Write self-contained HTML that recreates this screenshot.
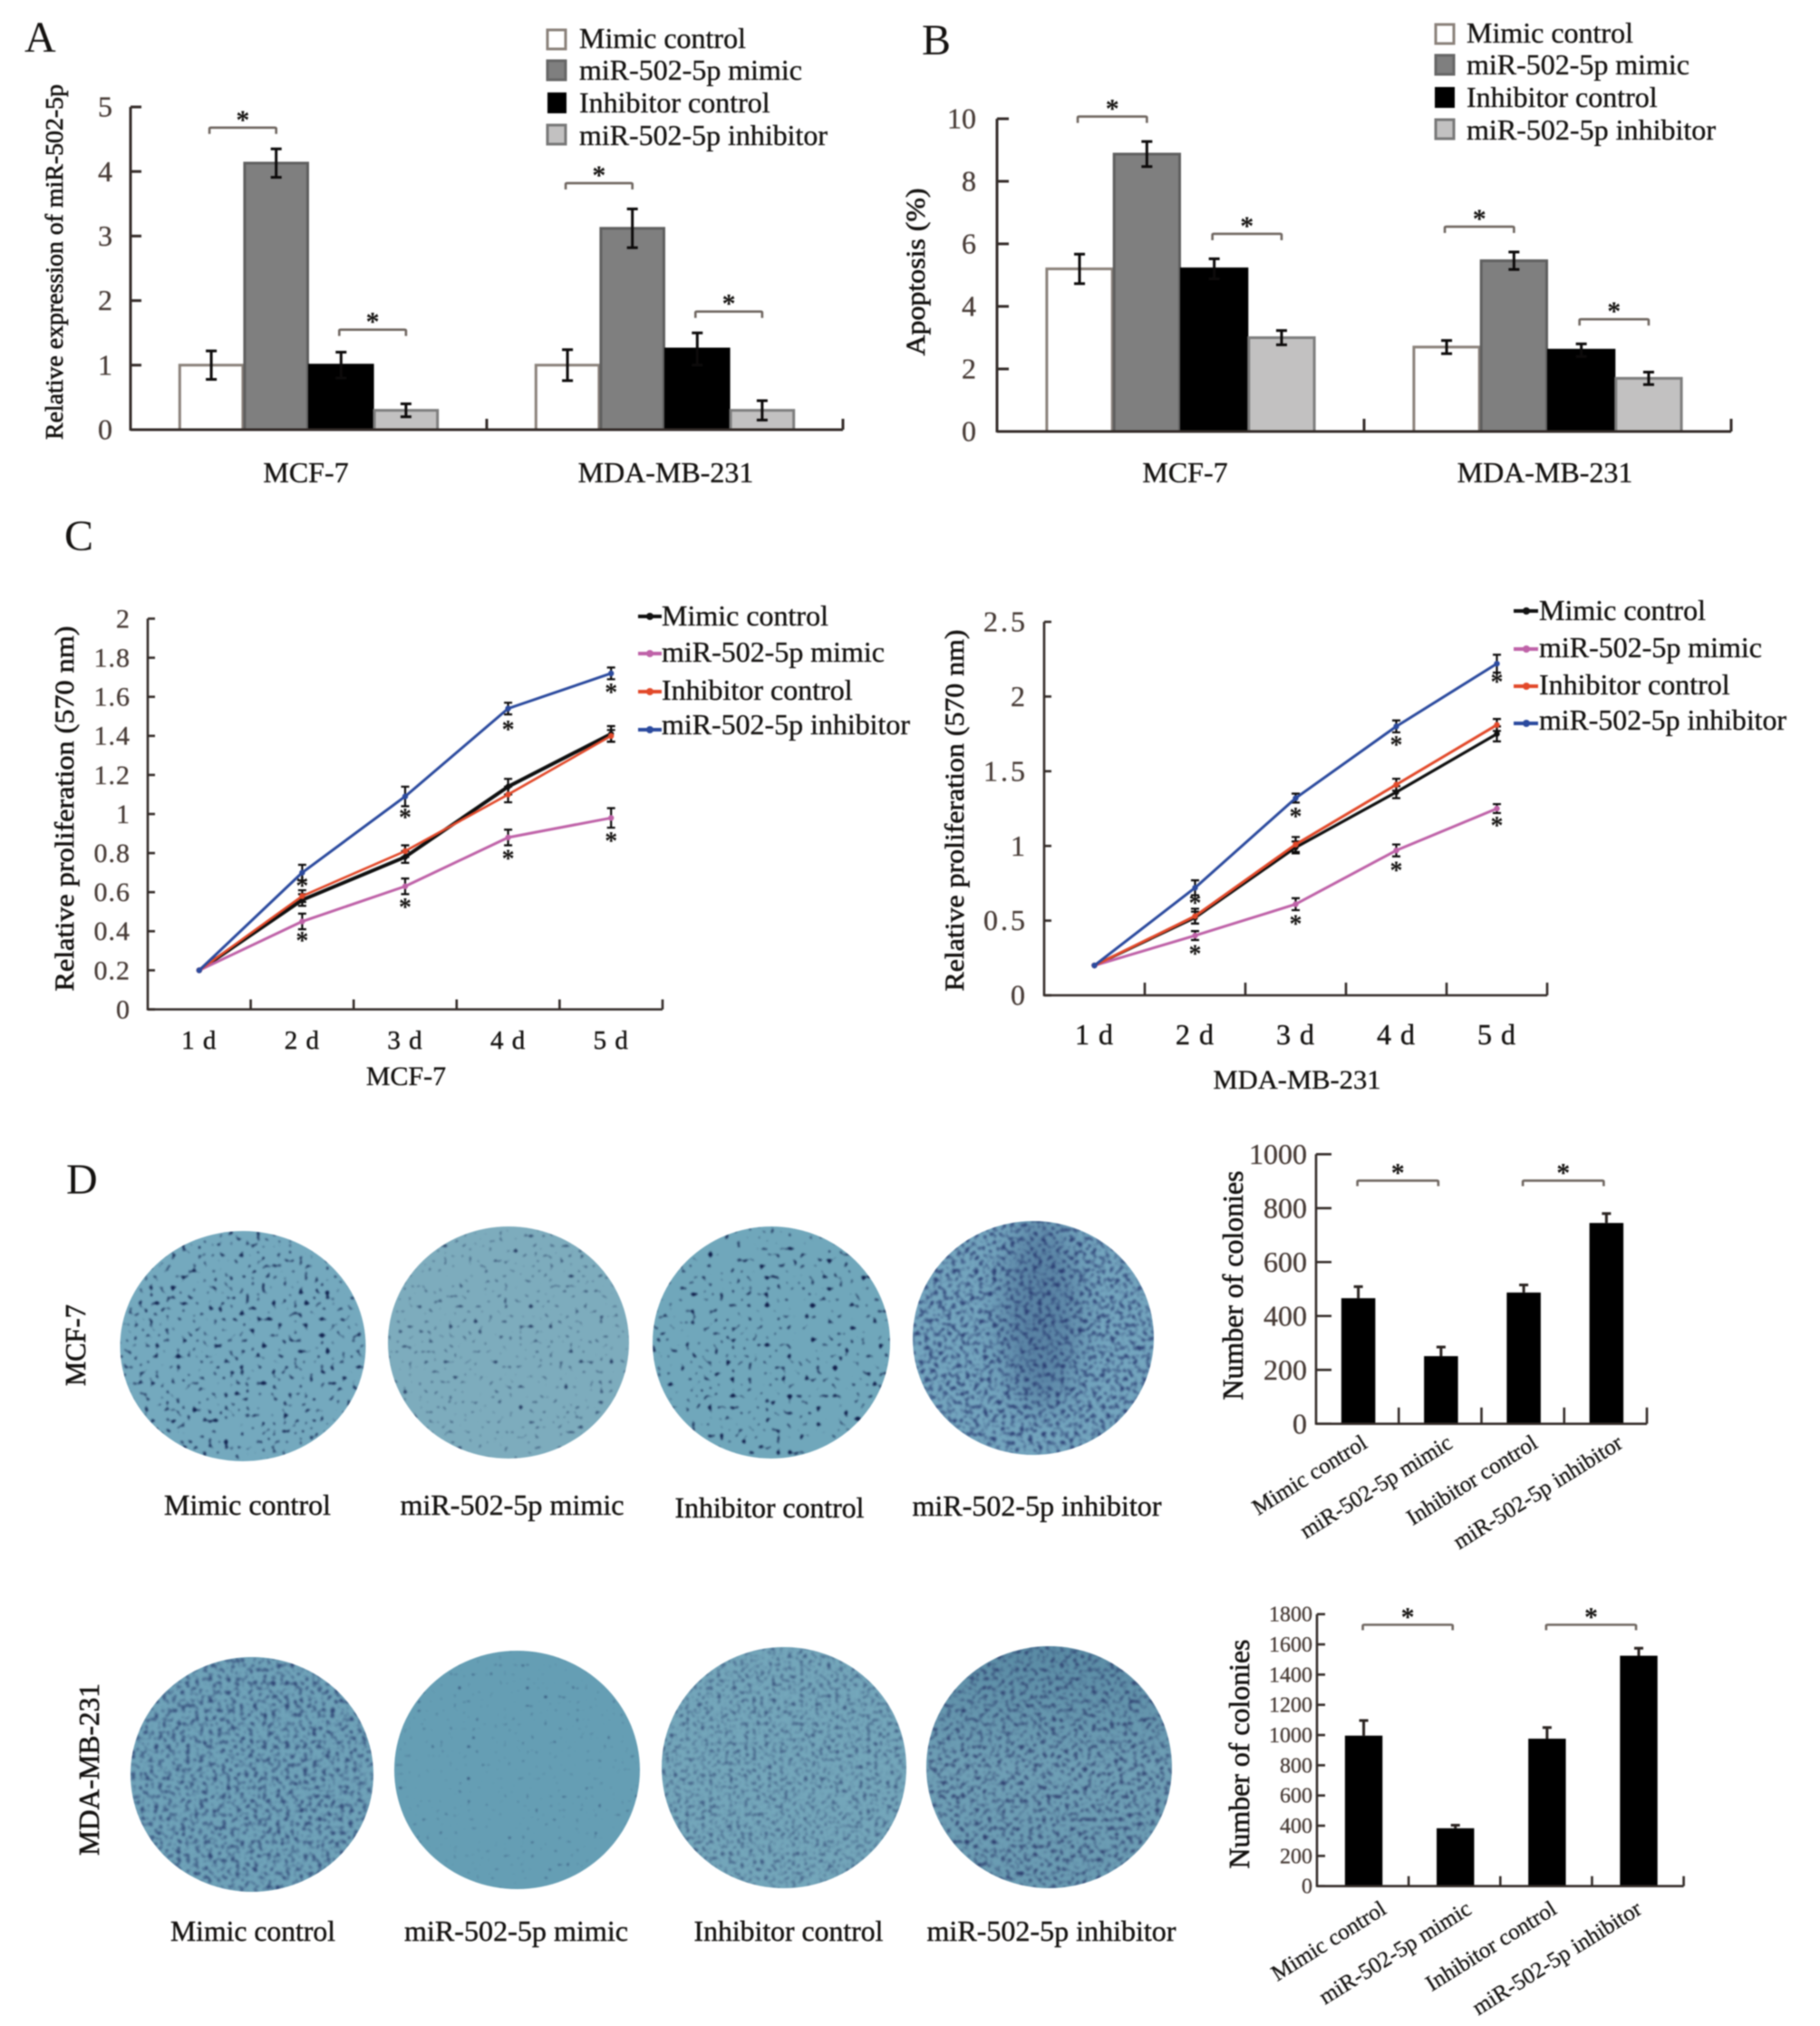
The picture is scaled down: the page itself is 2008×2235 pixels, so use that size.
<!DOCTYPE html>
<html lang="en">
<head>
<meta charset="utf-8">
<title>miR-502-5p multi-panel figure</title>
<style>
html,body{margin:0;padding:0;background:#fff;}
#figure{display:block;width:2008px;height:2235px;filter:blur(.7px);font-family:"Liberation Serif",serif;fill:#141210;}
.panel-letter{font-size:48px;}
.legend-text{font-size:32px;stroke:#141210;stroke-width:.35px;}
.axis-title{stroke:#141210;stroke-width:.6px;}
.cat{font-size:32px;stroke:#141210;stroke-width:.35px;}
.plate-label{font-size:32px;stroke:#141210;stroke-width:.4px;}
.tick{fill:#473b36;stroke:#473b36;stroke-width:.3px;}
</style>
</head>
<body>
<svg id="figure" xmlns="http://www.w3.org/2000/svg" width="2008" height="2235" viewBox="0 0 2008 2235">
<defs>
<filter id="sp1" x="0" y="0" width="1" height="1" color-interpolation-filters="sRGB"><feTurbulence type="fractalNoise" baseFrequency="0.17" numOctaves="1" seed="3"/><feColorMatrix values="0 0 0 0 .06 0 0 0 0 .12 0 0 0 0 .3 7 0 0 0 -4.3"/><feGaussianBlur stdDeviation=".9"/><feComposite operator="in" in2="SourceGraphic"/></filter>
<filter id="sp2" x="0" y="0" width="1" height="1" color-interpolation-filters="sRGB"><feTurbulence type="fractalNoise" baseFrequency="0.18" numOctaves="1" seed="11"/><feColorMatrix values="0 0 0 0 .12 0 0 0 0 .2 0 0 0 0 .36 6 0 0 0 -3.9"/><feGaussianBlur stdDeviation=".9"/><feComposite operator="in" in2="SourceGraphic"/></filter>
<filter id="sp3" x="0" y="0" width="1" height="1" color-interpolation-filters="sRGB"><feTurbulence type="fractalNoise" baseFrequency="0.16" numOctaves="1" seed="23"/><feColorMatrix values="0 0 0 0 .05 0 0 0 0 .1 0 0 0 0 .28 8 0 0 0 -5.1"/><feGaussianBlur stdDeviation=".9"/><feComposite operator="in" in2="SourceGraphic"/></filter>
<filter id="sp4" x="0" y="0" width="1" height="1" color-interpolation-filters="sRGB"><feTurbulence type="fractalNoise" baseFrequency="0.2" numOctaves="2" seed="37"/><feColorMatrix values="0 0 0 0 .14 0 0 0 0 .2 0 0 0 0 .42 3.6 0 0 0 -1.75"/><feGaussianBlur stdDeviation="1"/><feComposite operator="in" in2="SourceGraphic"/></filter>
<filter id="sp5" x="0" y="0" width="1" height="1" color-interpolation-filters="sRGB"><feTurbulence type="fractalNoise" baseFrequency="0.2" numOctaves="2" seed="41"/><feColorMatrix values="0 0 0 0 .15 0 0 0 0 .22 0 0 0 0 .42 3.4 0 0 0 -1.7"/><feGaussianBlur stdDeviation="1"/><feComposite operator="in" in2="SourceGraphic"/></filter>
<filter id="sp6" x="0" y="0" width="1" height="1" color-interpolation-filters="sRGB"><feTurbulence type="fractalNoise" baseFrequency="0.2" numOctaves="1" seed="53"/><feColorMatrix values="0 0 0 0 .14 0 0 0 0 .22 0 0 0 0 .4 5 0 0 0 -3.45"/><feGaussianBlur stdDeviation=".9"/><feComposite operator="in" in2="SourceGraphic"/></filter>
<filter id="sp7" x="0" y="0" width="1" height="1" color-interpolation-filters="sRGB"><feTurbulence type="fractalNoise" baseFrequency="0.23" numOctaves="2" seed="61"/><feColorMatrix values="0 0 0 0 .18 0 0 0 0 .26 0 0 0 0 .44 3.2 0 0 0 -1.65"/><feGaussianBlur stdDeviation="1"/><feComposite operator="in" in2="SourceGraphic"/></filter>
<filter id="sp8" x="0" y="0" width="1" height="1" color-interpolation-filters="sRGB"><feTurbulence type="fractalNoise" baseFrequency="0.2" numOctaves="2" seed="71"/><feColorMatrix values="0 0 0 0 .15 0 0 0 0 .2 0 0 0 0 .4 3.4 0 0 0 -1.7"/><feGaussianBlur stdDeviation="1"/><feComposite operator="in" in2="SourceGraphic"/></filter>
<filter id="soft" x="-30%" y="-30%" width="160%" height="160%"><feGaussianBlur stdDeviation="16"/></filter>
<linearGradient id="plate-top-dark" x1="0" y1="0" x2="0" y2="1"><stop offset="0" stop-color="#5a8ca5"/><stop offset=".5" stop-color="#6fa0b6"/><stop offset="1" stop-color="#6a9cb3"/></linearGradient>
<clipPath id="clip-mcf-inh"><ellipse cx="1140" cy="1476" rx="133" ry="129"/></clipPath>
</defs>

<!-- Panel letters -->
<text class="panel-letter" x="27" y="57">A</text>
<text class="panel-letter" x="1017" y="60">B</text>
<text class="panel-letter" x="71" y="607">C</text>
<text class="panel-letter" x="73" y="1317">D</text>

<!-- Panel A static parts -->
<g id="panel-a">
  <text class="axis-title" transform="translate(69,289) rotate(-90)" text-anchor="middle" font-size="27" textLength="392" lengthAdjust="spacingAndGlyphs">Relative expression of miR-502-5p</text>
  <g>
    <rect x="604" y="33" width="20" height="21" fill="#fff" stroke="#8a817a" stroke-width="3"/>
    <text class="legend-text" x="639" y="53">Mimic control</text>
    <rect x="604" y="67" width="20" height="21" fill="#7f7f7f" stroke="#666" stroke-width="3"/>
    <text class="legend-text" x="639" y="88" textLength="246" lengthAdjust="spacingAndGlyphs">miR-502-5p mimic</text>
    <rect x="604" y="102" width="21" height="23" fill="#000"/>
    <text class="legend-text" x="639" y="124">Inhibitor control</text>
    <rect x="604" y="138" width="20" height="21" fill="#c2c1c1" stroke="#777" stroke-width="3"/>
    <text class="legend-text" x="639" y="160" textLength="274" lengthAdjust="spacingAndGlyphs">miR-502-5p inhibitor</text>
  </g>
</g>

<!-- Panel B static parts -->
<g id="panel-b">
  <text class="axis-title" transform="translate(1020,300) rotate(-90)" text-anchor="middle" font-size="30" textLength="185" lengthAdjust="spacingAndGlyphs">Apoptosis (%)</text>
  <g>
    <rect x="1584" y="27" width="20" height="21" fill="#fff" stroke="#8a817a" stroke-width="3"/>
    <text class="legend-text" x="1618" y="47">Mimic control</text>
    <rect x="1584" y="61" width="20" height="21" fill="#7f7f7f" stroke="#666" stroke-width="3"/>
    <text class="legend-text" x="1618" y="82" textLength="246" lengthAdjust="spacingAndGlyphs">miR-502-5p mimic</text>
    <rect x="1583" y="96" width="22" height="23" fill="#000"/>
    <text class="legend-text" x="1618" y="118">Inhibitor control</text>
    <rect x="1584" y="132" width="20" height="21" fill="#c2c1c1" stroke="#777" stroke-width="3"/>
    <text class="legend-text" x="1618" y="154" textLength="275" lengthAdjust="spacingAndGlyphs">miR-502-5p inhibitor</text>
  </g>
</g>

<!-- Panel C left static parts -->
<g id="panel-c1">
  <text class="axis-title" transform="translate(81,892) rotate(-90)" text-anchor="middle" font-size="30" textLength="403" lengthAdjust="spacingAndGlyphs">Relative proliferation (570 nm)</text>
  <text class="cat" x="448" y="1197" text-anchor="middle" font-size="30" style="font-size:30px">MCF-7</text>
  <g>
    <line x1="704" y1="680" x2="730" y2="680" stroke="#111" stroke-width="4"/>
    <circle cx="717" cy="680" r="4" fill="#111"/>
    <text class="legend-text" x="730" y="690">Mimic control</text>
    <line x1="704" y1="721" x2="730" y2="721" stroke="#bf62a8" stroke-width="4"/>
    <circle cx="717" cy="721" r="4" fill="#bf62a8"/>
    <text class="legend-text" x="730" y="730" textLength="246" lengthAdjust="spacingAndGlyphs">miR-502-5p mimic</text>
    <line x1="704" y1="763" x2="730" y2="763" stroke="#e2492a" stroke-width="4"/>
    <circle cx="717" cy="763" r="4" fill="#e2492a"/>
    <text class="legend-text" x="730" y="772">Inhibitor control</text>
    <line x1="704" y1="805" x2="730" y2="805" stroke="#2b4a9e" stroke-width="4"/>
    <circle cx="717" cy="805" r="4" fill="#2b4a9e"/>
    <text class="legend-text" x="730" y="810" textLength="274" lengthAdjust="spacingAndGlyphs">miR-502-5p inhibitor</text>
  </g>
</g>

<!-- Panel C right static parts -->
<g id="panel-c2">
  <text class="axis-title" transform="translate(1063,894) rotate(-90)" text-anchor="middle" font-size="30" textLength="399" lengthAdjust="spacingAndGlyphs">Relative proliferation (570 nm)</text>
  <text class="cat" x="1431" y="1201" text-anchor="middle" style="font-size:30px" textLength="185" lengthAdjust="spacingAndGlyphs">MDA-MB-231</text>
  <g>
    <line x1="1670" y1="674" x2="1697" y2="674" stroke="#111" stroke-width="4"/>
    <circle cx="1684" cy="674" r="4" fill="#111"/>
    <text class="legend-text" x="1698" y="684">Mimic control</text>
    <line x1="1670" y1="716" x2="1697" y2="716" stroke="#bf62a8" stroke-width="4"/>
    <circle cx="1684" cy="716" r="4" fill="#bf62a8"/>
    <text class="legend-text" x="1698" y="725" textLength="246" lengthAdjust="spacingAndGlyphs">miR-502-5p mimic</text>
    <line x1="1670" y1="757" x2="1697" y2="757" stroke="#e2492a" stroke-width="4"/>
    <circle cx="1684" cy="757" r="4" fill="#e2492a"/>
    <text class="legend-text" x="1698" y="766">Inhibitor control</text>
    <line x1="1670" y1="798" x2="1697" y2="798" stroke="#2b4a9e" stroke-width="4"/>
    <circle cx="1684" cy="798" r="4" fill="#2b4a9e"/>
    <text class="legend-text" x="1698" y="805" textLength="273" lengthAdjust="spacingAndGlyphs">miR-502-5p inhibitor</text>
  </g>
</g>

<!-- Colony plates -->
<g id="plates-mcf7">
  <text class="axis-title" transform="translate(94,1484) rotate(-90)" text-anchor="middle" font-size="32" textLength="90" lengthAdjust="spacingAndGlyphs">MCF-7</text>
  <ellipse cx="268" cy="1485" rx="135.5" ry="127" fill="#74a9be"/>
  <ellipse cx="268" cy="1485" rx="135.5" ry="127" fill="#fff" filter="url(#sp1)"/>
  <ellipse cx="561" cy="1481" rx="133" ry="128" fill="#7dacbd"/>
  <ellipse cx="561" cy="1481" rx="133" ry="128" fill="#fff" filter="url(#sp2)"/>
  <ellipse cx="851" cy="1481" rx="131" ry="128" fill="#70a7bb"/>
  <ellipse cx="851" cy="1481" rx="131" ry="128" fill="#fff" filter="url(#sp3)"/>
  <ellipse cx="1140" cy="1476" rx="133" ry="129" fill="#74a6bf"/>
  <g clip-path="url(#clip-mcf-inh)">
    <ellipse cx="1148" cy="1450" rx="42" ry="105" fill="#35527f" opacity=".4" filter="url(#soft)"/>
  </g>
  <ellipse cx="1140" cy="1476" rx="133" ry="129" fill="#fff" filter="url(#sp4)"/>
  <text class="plate-label" x="273" y="1671" text-anchor="middle" textLength="184" lengthAdjust="spacingAndGlyphs">Mimic control</text>
  <text class="plate-label" x="565" y="1671" text-anchor="middle" textLength="247" lengthAdjust="spacingAndGlyphs">miR-502-5p mimic</text>
  <text class="plate-label" x="849" y="1674" text-anchor="middle" textLength="209" lengthAdjust="spacingAndGlyphs">Inhibitor control</text>
  <text class="plate-label" x="1144" y="1672" text-anchor="middle" textLength="275" lengthAdjust="spacingAndGlyphs">miR-502-5p inhibitor</text>
</g>
<g id="plates-mda">
  <text class="axis-title" transform="translate(109,1952) rotate(-90)" text-anchor="middle" font-size="32" textLength="190" lengthAdjust="spacingAndGlyphs">MDA-MB-231</text>
  <ellipse cx="278" cy="1957.5" rx="134" ry="129.5" fill="#6fa3b9"/>
  <ellipse cx="278" cy="1957.5" rx="134" ry="129.5" fill="#fff" filter="url(#sp5)"/>
  <ellipse cx="570.5" cy="1952.5" rx="135.5" ry="131.5" fill="#659eb4"/>
  <ellipse cx="570.5" cy="1952.5" rx="135.5" ry="131.5" fill="#fff" filter="url(#sp6)"/>
  <ellipse cx="865" cy="1950" rx="135" ry="133" fill="#74a7bb"/>
  <ellipse cx="865" cy="1950" rx="135" ry="133" fill="#fff" filter="url(#sp7)"/>
  <ellipse cx="1157.5" cy="1949.5" rx="135.5" ry="133.5" fill="url(#plate-top-dark)"/>
  <ellipse cx="1157.5" cy="1949.5" rx="135.5" ry="133.5" fill="#fff" filter="url(#sp8)"/>
  <text class="plate-label" x="279" y="2141" text-anchor="middle" textLength="182" lengthAdjust="spacingAndGlyphs">Mimic control</text>
  <text class="plate-label" x="569.5" y="2141" text-anchor="middle" textLength="247" lengthAdjust="spacingAndGlyphs">miR-502-5p mimic</text>
  <text class="plate-label" x="870" y="2141" text-anchor="middle" textLength="209" lengthAdjust="spacingAndGlyphs">Inhibitor control</text>
  <text class="plate-label" x="1160" y="2141" text-anchor="middle" textLength="275" lengthAdjust="spacingAndGlyphs">miR-502-5p inhibitor</text>
</g>

<!-- Panel D bar charts static parts -->
<g id="panel-d1">
  <text class="axis-title" transform="translate(1371,1418) rotate(-90)" text-anchor="middle" font-size="32" textLength="253" lengthAdjust="spacingAndGlyphs">Number of colonies</text>
</g>
<g id="panel-d2">
  <text class="axis-title" transform="translate(1378,1935) rotate(-90)" text-anchor="middle" font-size="32" textLength="253" lengthAdjust="spacingAndGlyphs">Number of colonies</text>
</g>
</svg>

<script>
/* ---------- Panel A data ---------- */
const panelACategories = ['MCF-7', 'MDA-MB-231'];
const panelATicks = [0, 1, 2, 3, 4, 5];
const panelAValues = [[1, 4.13, 1, 0.3], [1, 3.12, 1.25, 0.3]];
const panelAErrors = [[0.22, 0.22, 0.2, 0.1], [0.24, 0.3, 0.25, 0.15]];
const panelASignificance = [[0, 0, 1, 4.68], [0, 2, 3, 1.55], [1, 0, 1, 3.82], [1, 2, 3, 1.83]];

/* ---------- Panel B data ---------- */
const panelBCategories = ['MCF-7', 'MDA-MB-231'];
const panelBTicks = [0, 2, 4, 6, 8, 10];
const panelBValues = [[5.2, 8.87, 5.2, 3.0], [2.7, 5.46, 2.6, 1.7]];
const panelBErrors = [[0.47, 0.4, 0.32, 0.23], [0.21, 0.28, 0.2, 0.2]];
const panelBSignificance = [[0, 0, 1, 10.07], [0, 2, 3, 6.32], [1, 0, 1, 6.55], [1, 2, 3, 3.59]];

/* ---------- Panel C data ---------- */
const days = ['1 d', '2 d', '3 d', '4 d', '5 d'];
const panelC1Ticks = ['0', '0.2', '0.4', '0.6', '0.8', '1', '1.2', '1.4', '1.6', '1.8', '2'];
const c1MimicControl = [0.2, 0.56, 0.78, 1.14, 1.41];
const c1Mimic = [0.2, 0.45, 0.63, 0.88, 0.98];
const c1InhibitorControl = [0.2, 0.58, 0.81, 1.1, 1.4];
const c1Inhibitor = [0.2, 0.7, 1.09, 1.54, 1.72];
const c1ErrMimicControl = [0, 0.03, 0.03, 0.04, 0.04];
const c1ErrMimic = [0, 0.04, 0.04, 0.04, 0.05];
const c1ErrInhibitorControl = [0, 0.03, 0.03, 0.04, 0.03];
const c1ErrInhibitor = [0, 0.04, 0.05, 0.03, 0.03];
const c1StarsMimic = [null, 0.37, 0.54, 0.79, 0.88];
const c1StarsInhibitor = [null, 0.65, 1.0, 1.45, 1.64];

const panelC2Ticks = ['0', '0.5', '1', '1.5', '2', '2.5'];
const c2MimicControl = [0.2, 0.52, 0.99, 1.36, 1.75];
const c2Mimic = [0.2, 0.4, 0.61, 0.97, 1.25];
const c2InhibitorControl = [0.2, 0.53, 1.01, 1.41, 1.81];
const c2Inhibitor = [0.2, 0.72, 1.32, 1.8, 2.22];
const c2ErrMimicControl = [0, 0.04, 0.04, 0.04, 0.05];
const c2ErrMimic = [0, 0.03, 0.04, 0.04, 0.03];
const c2ErrInhibitorControl = [0, 0.05, 0.05, 0.04, 0.04];
const c2ErrInhibitor = [0, 0.05, 0.03, 0.04, 0.06];
const c2StarsMimic = [null, 0.3, 0.5, 0.86, 1.16];
const c2StarsInhibitor = [null, 0.64, 1.22, 1.7, 2.12];

/* ---------- Panel D data ---------- */
const colonyCategories = ['Mimic control', 'miR-502-5p mimic', 'Inhibitor control', 'miR-502-5p inhibitor'];
const d1Ticks = [0, 200, 400, 600, 800, 1000];
const d1Values = [466, 251, 487, 745];
const d1Errors = [43, 34, 28, 35];
const d1Significance = [[0, 1, 902], [2, 3, 902]];
const d2Ticks = [0, 200, 400, 600, 800, 1000, 1200, 1400, 1600, 1800];
const d2Values = [996, 383, 976, 1525];
const d2Errors = [100, 20, 74, 50];
const d2Significance = [[0, 1, 1730], [2, 3, 1730]];

const NS = 'http://www.w3.org/2000/svg';
const AXIS = '#332b28';
const BRACKET = '#6f6660';
const BAR_FILL = ['#ffffff', '#7f7f7f', '#000000', '#c2c1c1'];
const BAR_EDGE = ['#8a817a', '#5f5f5f', '#000000', '#7d7d7d'];

function mk(parent, tag, attrs, text) {
  const n = document.createElementNS(NS, tag);
  for (const k in attrs) n.setAttribute(k, attrs[k]);
  if (text !== undefined) n.textContent = text;
  parent.appendChild(n);
  return n;
}

function linearY(f, v) {
  return f.y0 - (v / f.max) * (f.y0 - f.yTop);
}

function drawYAxis(root, f, ticks) {
  const axis = mk(root, 'line', {x1: f.x0, y1: f.yTop, x2: f.x0, y2: f.y0 + 1, stroke: AXIS, 'stroke-width': f.sw || 3});
  
  
  ticks.forEach(function (t) {
    const y = linearY(f, Number(t));
    const tk = mk(root, 'line', {x1: f.x0, y1: y, x2: f.x0 + f.yTickLen, y2: y, stroke: AXIS, 'stroke-width': f.sw || 3});
    
    
    const lb = mk(root, 'text', {x: f.x0 - f.labelGap, y: y + f.labelSize * 0.33, 'text-anchor': 'end', 'font-size': f.labelSize, class: 'tick', 'letter-spacing': f.labelSpacing || 0}, String(t));
    
    
  });
}

function drawXAxis(root, f, n) {
  const axis = mk(root, 'line', {x1: f.x0, y1: f.y0, x2: f.x1, y2: f.y0, stroke: AXIS, 'stroke-width': f.sw || 3});
  
  
  const band = (f.x1 - f.x0) / n;
  for (let i = 1; i <= n; i++) {
    const x = f.x0 + band * i;
    const tk = mk(root, 'line', {x1: x, y1: f.y0, x2: x, y2: f.y0 - f.xTickLen, stroke: AXIS, 'stroke-width': f.sw || 3});
    
    
  }
  return band;
}

function drawError(root, x, yHi, yLo, cap, sw) {
  const p = mk(root, 'path', {d: 'M' + (x - cap) + ' ' + yHi + 'H' + (x + cap) + 'M' + x + ' ' + yHi + 'V' + yLo + 'M' + (x - cap) + ' ' + yLo + 'H' + (x + cap), fill: 'none', stroke: '#0c0a0a', 'stroke-width': sw});
  
  
}

function drawBracket(root, xa, xb, y, tip) {
  const p = mk(root, 'path', {d: 'M' + xa + ' ' + (y + tip) + 'V' + (y + 1) + 'Q' + xa + ' ' + y + ' ' + (xa + 2) + ' ' + y + 'H' + (xb - 2) + 'Q' + xb + ' ' + y + ' ' + xb + ' ' + (y + 1) + 'V' + (y + tip), fill: 'none', stroke: BRACKET, 'stroke-width': 2.6});
  
  
  const s = mk(root, 'text', {x: (xa + xb) / 2, y: y + 1, 'text-anchor': 'middle', 'font-size': 30, 'font-weight': 'bold'}, '*');
  
  
}

function drawGrouped(rootId, f, categories, ticks, values, errors, sig) {
  const root = document.getElementById(rootId);
  const band = (f.x1 - f.x0) / categories.length;
  categories.forEach(function (name, c) {
    const centre = f.x0 + band * (c + 0.5);
    values[c].forEach(function (v, s) {
      const x = centre + (s - 2) * f.barW;
      const y = linearY(f, v);
      const bar = mk(root, 'rect', {x: x + 1, y: y, width: f.barW - 2, height: f.y0 - y, fill: BAR_FILL[s], stroke: BAR_EDGE[s], 'stroke-width': 3});
      
      
      const ex = x + f.barW / 2;
      drawError(root, ex, linearY(f, v + errors[c][s]), linearY(f, v - errors[c][s]), 6, 3);
    });
    const lb = mk(root, 'text', {x: centre + f.catDx[c], y: f.catY, 'text-anchor': 'middle', class: 'cat'}, name);
    
    
  });
  drawYAxis(root, f, ticks);
  drawXAxis(root, f, categories.length);
  sig.forEach(function (b) {
    const centre = f.x0 + band * (b[0] + 0.5);
    drawBracket(root, centre + (b[1] - 1.5) * f.barW - 2, centre + (b[2] - 1.5) * f.barW, linearY(f, b[3]), 7);
  });
}

function drawLines(rootId, f, cats, ticks, series, stars) {
  const root = document.getElementById(rootId);
  drawYAxis(root, f, ticks);
  const band = drawXAxis(root, f, cats.length);
  const xAt = function (i) { return f.x0 + band * (i + 0.5); };
  cats.forEach(function (name, i) {
    const lb = mk(root, 'text', {x: xAt(i), y: f.catY, 'text-anchor': 'middle', 'font-size': f.catSize, 'letter-spacing': f.catSpacing, stroke: '#141210', 'stroke-width': 0.4}, name);
    
    
  });
  series.forEach(function (s) {
    s.values.forEach(function (v, i) {
      if (s.errors[i] > 0) {
        drawError(root, xAt(i), linearY(f, v + s.errors[i]), linearY(f, v - s.errors[i]), 4.5, 2.2);
      }
    });
  });
  series.forEach(function (s) {
    const line = mk(root, 'polyline', {points: s.values.map(function (v, i) { return xAt(i) + ',' + linearY(f, v); }).join(' '), fill: 'none', stroke: s.color, 'stroke-width': s.width, 'stroke-linejoin': 'round'});
    
    
    s.values.forEach(function (v, i) {
      const m = mk(root, 'circle', {cx: xAt(i), cy: linearY(f, v), r: 3.2, fill: s.color});
      
      
    });
  });
  stars.forEach(function (row) {
    row.forEach(function (v, i) {
      if (v === null) return;
      const st = mk(root, 'text', {x: xAt(i), y: linearY(f, v) + 13, 'text-anchor': 'middle', 'font-size': 28, 'font-weight': 'bold'}, '*');
      
      
    });
  });
}

function drawColonies(rootId, f, cats, ticks, values, errors, sig) {
  const root = document.getElementById(rootId);
  const band = (f.x1 - f.x0) / cats.length;
  const xAt = function (i) { return f.x0 + band * (i + 0.5) + 1; };
  values.forEach(function (v, i) {
    const y = linearY(f, v);
    const bar = mk(root, 'rect', {x: xAt(i) - f.barW / 2, y: y, width: f.barW, height: f.y0 - y, fill: '#000'});
    
    
    const ey = linearY(f, v + errors[i]);
    const e = mk(root, 'path', {d: 'M' + (xAt(i) - 5) + ' ' + ey + 'H' + (xAt(i) + 5) + 'M' + xAt(i) + ' ' + ey + 'V' + y, fill: 'none', stroke: '#2a2320', 'stroke-width': 3});
    
    
    const lb = mk(root, 'text', {transform: 'translate(' + (f.labelX + f.labelStep * i) + ',' + f.labelY + ') rotate(-32)', 'text-anchor': 'end', 'font-size': 25, stroke: '#141210', 'stroke-width': 0.3}, cats[i]);
    
    
  });
  drawYAxis(root, f, ticks);
  drawXAxis(root, f, cats.length);
  sig.forEach(function (b) {
    drawBracket(root, xAt(b[0]) - 1, xAt(b[1]) - 3, linearY(f, b[2]), 6);
  });
}

drawGrouped('panel-a',
  {x0: 144, x1: 930, y0: 474, yTop: 118, max: 5, barW: 71.6, yTickLen: 12, xTickLen: 12, labelGap: 20, labelSize: 32, catY: 532, catDx: [-3, 1]},
  panelACategories, panelATicks, panelAValues, panelAErrors, panelASignificance);

drawGrouped('panel-b',
  {x0: 1100, x1: 1910, y0: 476, yTop: 131, max: 10, barW: 74.3, yTickLen: 13, xTickLen: 14, labelGap: 23, labelSize: 32, catY: 532, catDx: [5, -3]},
  panelBCategories, panelBTicks, panelBValues, panelBErrors, panelBSignificance);

drawLines('panel-c1',
  {x0: 163, x1: 731, y0: 1113.5, yTop: 682.5, max: 2, yTickLen: 8, xTickLen: 11, labelGap: 19, labelSize: 30, labelSpacing: 1, catY: 1157, catSize: 29, catSpacing: 1, sw: 2.6},
  days, panelC1Ticks,
  [{values: c1MimicControl, errors: c1ErrMimicControl, color: '#0f0f0f', width: 4},
   {values: c1Mimic, errors: c1ErrMimic, color: '#bf62a8', width: 3},
   {values: c1InhibitorControl, errors: c1ErrInhibitorControl, color: '#e2492a', width: 2.6},
   {values: c1Inhibitor, errors: c1ErrInhibitor, color: '#2b4a9e', width: 3}],
  [c1StarsMimic, c1StarsInhibitor]);

drawLines('panel-c2',
  {x0: 1152, x1: 1707, y0: 1098, yTop: 686, max: 2.5, yTickLen: 8, xTickLen: 14, labelGap: 18, labelSize: 32, labelSpacing: 3, catY: 1152, catSize: 32, catSpacing: 1, sw: 2.6},
  days, panelC2Ticks,
  [{values: c2MimicControl, errors: c2ErrMimicControl, color: '#0f0f0f', width: 3.2},
   {values: c2Mimic, errors: c2ErrMimic, color: '#bf62a8', width: 3},
   {values: c2InhibitorControl, errors: c2ErrInhibitorControl, color: '#e2492a', width: 3},
   {values: c2Inhibitor, errors: c2ErrInhibitor, color: '#2b4a9e', width: 3}],
  [c2StarsMimic, c2StarsInhibitor]);

drawColonies('panel-d1',
  {x0: 1452, x1: 1817, y0: 1570.7, yTop: 1273.3, max: 1000, barW: 37.5, yTickLen: 17, xTickLen: 18, labelGap: 10, labelSize: 32, labelX: 1510, labelStep: 94, labelY: 1596, sw: 2.6},
  colonyCategories, d1Ticks, d1Values, d1Errors, d1Significance);

drawColonies('panel-d2',
  {x0: 1453, x1: 1857.6, y0: 2080.7, yTop: 1780.7, max: 1800, barW: 41.4, yTickLen: 9, xTickLen: 11, labelGap: 5, labelSize: 24, labelX: 1531, labelStep: 94, labelY: 2110, sw: 2.6},
  colonyCategories, d2Ticks, d2Values, d2Errors, d2Significance);
</script>
</body>
</html>
